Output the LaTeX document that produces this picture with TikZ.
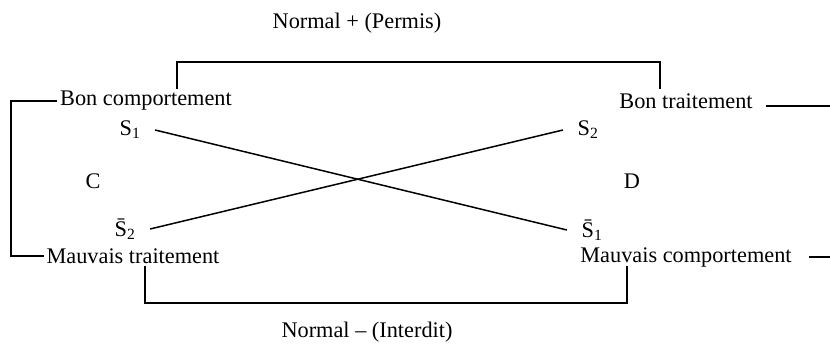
\documentclass[tikz,border=0pt]{standalone}
\usepackage{fontspec}
\setmainfont{Liberation Serif}
\begin{document}
\begin{tikzpicture}[x=1pt,y=-1pt,line width=1.5pt,
    every node/.style={font=\fontsize{22.3}{26}\selectfont, inner sep=2pt},
    sig/.style={inner xsep=14pt}]
  \useasboundingbox (0,0) rectangle (830,346);
  \node (1) at (146,101) {Bon comportement};
  \node (2) at (686,101) {Bon traitement};
  \node (3) at (133,256) {Mauvais traitement};
  \node (4) at (686,257) {Mauvais comportement};
  \node (5) at (357,23) {Normal + (Permis)};
  \node (6) at (367,332) {Normal -- (Interdit)};
  \node (7) [sig] at (130,130) {S\textsubscript{1}};
  \node (8) [sig] at (588,130) {S\textsubscript{2}};
  \node (9) [sig] at (125,229) {\={S}\textsubscript{2}};
  \node (10) [sig] at (592,230) {\={S}\textsubscript{1}};
  \node (11) at (93,181) {C};
  \node (12) at (632,181) {D};
  \coordinate (l) at (11,0);
  \coordinate (r1) at (830,106);
  \coordinate (r2) at (830,257);
  \path[-]  (7.east) edge (10.west)
            (9.east) edge (8.west)
            ;
  \draw (1.north -| 177,0) |- (660,62) -- (1.north -| 660,0);
  \draw (3.south -| 145,0) |- (627,303) -- (3.south -| 627,0);
  \draw (1.west) -- (1.west -| l) -- (3.west -| l) -- (3.west);
  \draw ([xshift=11pt]r1 -| 2.east) -- (r1);
  \draw ([xshift=15pt]r2 -| 4.east) -- (r2);
\end{tikzpicture}
\end{document}
